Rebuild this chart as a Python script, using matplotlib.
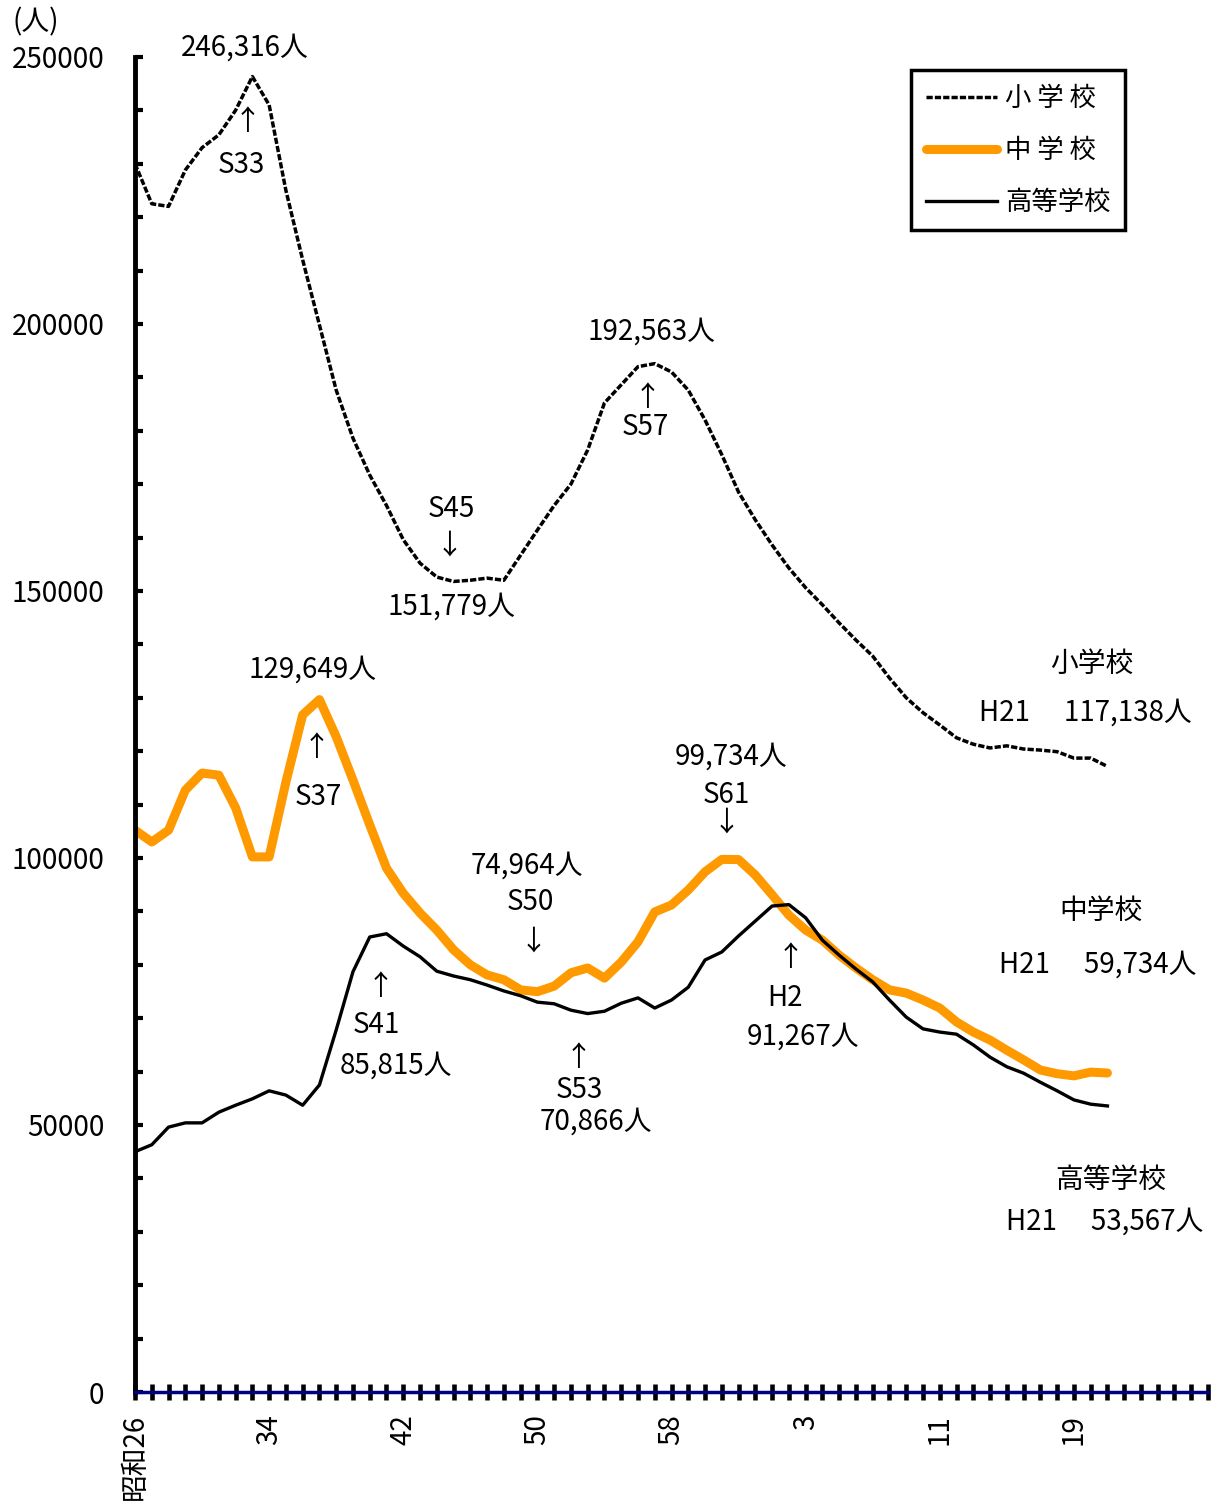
import matplotlib
matplotlib.use("Agg")
import matplotlib.pyplot as plt
from matplotlib.ticker import MultipleLocator, FixedLocator

plt.rcParams['font.family'] = ['Noto Sans CJK JP', 'DejaVu Sans']

# 昭和26年(1951) 〜 平成21年(2009)
years = list(range(1951, 2010))

elementary = [230000, 222500, 222000, 228800, 233000, 235400, 240000, 246316, 241000, 225000,
              212000, 199800, 187600, 178600, 171700, 166000, 159600, 155200, 152600, 151779,
              152000, 152400, 152000, 156700, 161400, 166000, 170000, 176400, 185200, 188600,
              192000, 192563, 191000, 187600, 182000, 175500, 168500, 163300, 158600, 154300,
              150600, 147400, 144000, 140800, 137800, 133700, 130000, 127200, 124900, 122500,
              121300, 120600, 121000, 120400, 120200, 119900, 118700, 118700, 117138]

junior = [105200, 103000, 105200, 112700, 115900, 115500, 109400, 100200, 100200, 114200,
          126800, 129649, 122700, 114600, 106200, 98100, 93400, 89700, 86500, 82800,
          80000, 78100, 77200, 75300, 74964, 76000, 78500, 79400, 77500, 80500,
          84300, 89900, 91200, 94000, 97400, 99734, 99700, 96800, 93100, 89300,
          86500, 84600, 81800, 79400, 77200, 75300, 74700, 73400, 71900, 69300,
          67400, 65900, 64000, 62200, 60300, 59600, 59200, 59900, 59734]

high = [45000, 46300, 49600, 50400, 50400, 52400, 53700, 54900, 56400, 55600,
        53700, 57500, 67800, 78700, 85200, 85815, 83500, 81500, 78800, 77900,
        77200, 76200, 75100, 74200, 73000, 72700, 71500, 70866, 71300, 72800,
        73800, 71900, 73400, 75800, 80900, 82400, 85400, 88200, 91000, 91267,
        88800, 84600, 81800, 79200, 76800, 73400, 70200, 68000, 67400, 67000,
        65000, 62700, 60900, 59700, 58000, 56400, 54700, 53900, 53567]

tick_pos = [0, 8, 16, 24, 32, 40, 48, 56]
tick_labels = ['昭和26', '34', '42', '50', '58', '3', '11', '19']

# (x index, value, text)
notes = [
    (6.57, 251700, '246,316人'), (6.69, 237800, '↑'), (6.33, 229800, 'S33'),
    (30.8, 198500, '192,563人'), (30.57, 186100, '↑'), (30.45, 180700, 'S57'),
    (18.87, 165400, 'S45'), (18.75, 158400, '↓'), (18.87, 147000, '151,779人'),
    (10.57, 135200, '129,649人'), (10.8, 120600, '↑'), (10.93, 111400, 'S37'),
    (35.58, 118900, '99,734人'), (35.28, 111800, 'S61'), (35.28, 106700, '↓'),
    (23.4, 98500, '74,964人'), (23.58, 91800, 'S50'), (23.76, 84300, '↓'),
    (14.63, 75800, '↑'), (14.39, 68700, 'S41'), (15.58, 61200, '85,815人'),
    (26.45, 62500, '↑'), (26.5, 56600, 'S53'), (27.46, 50600, '70,866人'),
    (39.1, 81300, '↑'), (38.75, 73800, 'H2'), (39.82, 66500, '91,267人'),
    (57.07, 136300, '小学校'), (56.7, 127300, 'H21　 117,138人'),
    (57.6, 90100, '中学校'), (57.4, 80100, 'H21　 59,734人'),
    (58.2, 39700, '高等学校'), (57.85, 32000, 'H21　 53,567人'),
]

x = list(range(len(years)))

fig = plt.figure(figsize=(12.13, 15.01), dpi=100)
ax = fig.add_axes([0.1113, 0.0726, 0.8846, 0.8895])

ax.plot(x, elementary, color='black', lw=2.5, linestyle=(0, (1.8, 0.6)), label='小 学 校', zorder=3)
ax.plot(x, junior, color='#FF9900', lw=6.5, solid_capstyle='round', label='中 学 校', zorder=2)
ax.plot(x, high, color='black', lw=2.4, label='高等学校', zorder=4)

ax.set_xlim(0, 64)
ax.set_ylim(0, 250000)

for s in ['top', 'right']:
    ax.spines[s].set_visible(False)
ax.spines['left'].set_linewidth(3.5)
ax.spines['bottom'].set_color('#000080')
ax.spines['bottom'].set_linewidth(2.5)
ax.spines['bottom'].set_zorder(5)

ax.yaxis.set_major_locator(MultipleLocator(50000))
ax.yaxis.set_minor_locator(MultipleLocator(10000))
ax.tick_params(axis='y', which='both', direction='in', length=5.5, width=3, labelsize=20, pad=22)

ax.xaxis.set_major_locator(FixedLocator(tick_pos))
ax.xaxis.set_minor_locator(MultipleLocator(1))
ax.set_xticklabels(tick_labels, rotation=90)
ax.tick_params(axis='x', which='both', direction='inout', length=12, width=3.3, labelsize=20, pad=10)
for t in ax.get_xticklabels():
    t.set_verticalalignment('top')

for xi, yv, txt in notes:
    ax.text(xi, yv, txt, ha='center', va='center', fontsize=20, clip_on=False)

fig.text(0.01, 0.985, '(人)', fontsize=20, ha='left', va='center')

leg = ax.legend(loc='upper right', bbox_to_anchor=(0.9226, 0.990), borderaxespad=0,
                fontsize=19, frameon=True, fancybox=False, handlelength=2.7,
                labelspacing=0.95, borderpad=0.55, handletextpad=0.3)
leg.get_frame().set_edgecolor('black')
leg.get_frame().set_linewidth(2.5)
leg.get_frame().set_alpha(1)

fig.savefig('out.png', dpi=100)
